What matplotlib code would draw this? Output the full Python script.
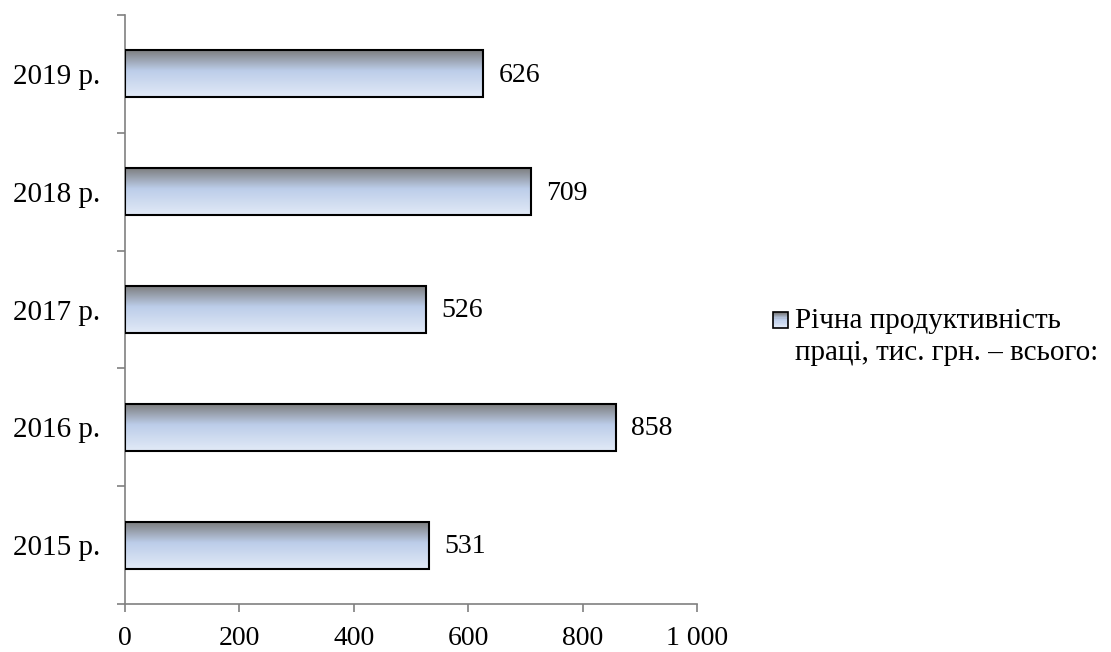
import numpy as np
import matplotlib
matplotlib.use('Agg')
import matplotlib.pyplot as plt
from matplotlib.colors import LinearSegmentedColormap
from matplotlib.patches import Rectangle
from matplotlib.legend_handler import HandlerBase
from matplotlib.ticker import FuncFormatter, FixedLocator

years = ['2015 р.', '2016 р.', '2017 р.', '2018 р.', '2019 р.']
values = [531, 858, 526, 709, 626]
series_name = 'Річна продуктивність\nпраці, тис. грн. – всього:'

plt.rcParams['font.family'] = ['Liberation Serif', 'DejaVu Serif']

# vertical shading of each bar: dark grey top, pale blue bottom
shade = LinearSegmentedColormap.from_list(
    'shade', [(0.0, '#7a7a7a'), (0.45, '#bccde9'), (1.0, '#e2eaf7')])
grad = np.linspace(0, 1, 256).reshape(-1, 1)


class GradientHandler(HandlerBase):
    # small shaded square, lifted so it sits next to the first text line
    def create_artists(self, legend, orig_handle, xdescent, ydescent,
                       width, height, fontsize, trans):
        s = 11
        x0 = -xdescent
        y0 = -ydescent + 14
        arts = []
        n = 12
        for k in range(n):
            c = shade((k + 0.5) / n)
            arts.append(Rectangle((x0, y0 + s - (k + 1) * s / n), s, s / n,
                                  facecolor=c, edgecolor='none', transform=trans))
        arts.append(Rectangle((x0, y0), s, s, facecolor='none',
                              edgecolor='black', lw=1.2, transform=trans))
        return arts


fig = plt.figure(figsize=(11.11, 6.52), dpi=100)
ax = fig.add_axes([0.1125, 0.0736, 0.5149, 0.9034])

pos = np.arange(len(years))
bars = ax.barh(pos, values, height=0.4, facecolor='none',
               edgecolor='black', linewidth=1.5, zorder=3)

for b, v in zip(bars, values):
    x0, y0 = b.get_x(), b.get_y()
    h = b.get_height()
    im = ax.imshow(grad, cmap=shade, aspect='auto',
                   extent=[x0, x0 + v, y0, y0 + h], origin='upper', zorder=2)
    im.set_clip_path(b)
    ax.annotate(str(v), xy=(v, y0 + h / 2),
                xytext=(11, -1), textcoords='offset points',
                va='center', ha='left', fontsize=20)

ax.set_xlim(0, 1000)
ax.set_ylim(-0.5, len(years) - 0.5)
ax.set_xticks(np.arange(0, 1001, 200))
ax.xaxis.set_major_formatter(FuncFormatter(lambda v, p: f'{int(v):,}'.replace(',', ' ')))

ax.yaxis.set_major_locator(FixedLocator(np.arange(-0.5, len(years), 1.0)))
ax.yaxis.set_major_formatter(FuncFormatter(lambda v, p: ''))
ax.set_yticks(pos, minor=True)
ax.set_yticklabels(years, minor=True)
ax.tick_params(axis='y', which='minor', length=0, pad=18, labelsize=21)
ax.tick_params(axis='y', which='major', length=6, color='#808080', width=1.2)
ax.tick_params(axis='x', length=6, color='#808080', width=1.2, pad=10, labelsize=20)

for s in ('top', 'right'):
    ax.spines[s].set_visible(False)
for s in ('left', 'bottom'):
    ax.spines[s].set_color('#808080')
    ax.spines[s].set_linewidth(1.2)

proxy = Rectangle((0, 0), 1, 1)
leg = fig.legend([proxy], [series_name], handler_map={Rectangle: GradientHandler()},
                 loc='center left', bbox_to_anchor=(0.6958, 0.483), frameon=False,
                 fontsize=21, handlelength=0.75, handletextpad=0.0, borderpad=0,
                 borderaxespad=0)
for t in leg.get_texts():
    t.set_linespacing(1.3)

fig.savefig('out.png', dpi=100)
